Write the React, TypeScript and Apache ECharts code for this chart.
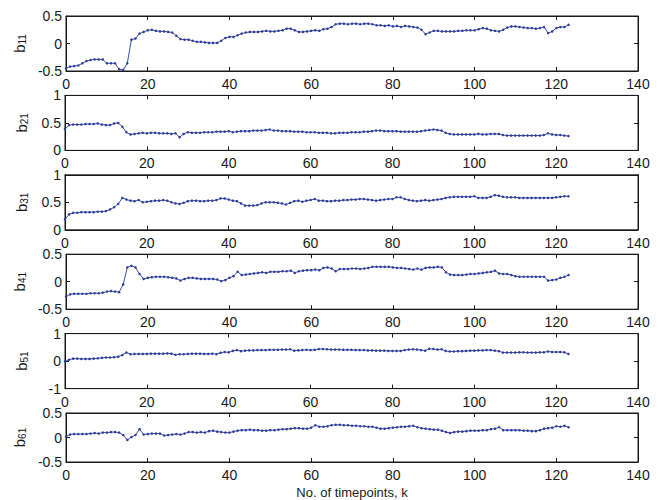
import React, { useEffect, useRef } from "react";
import * as echarts from "echarts";

const xTicks = [0, 20, 40, 60, 80, 100, 120, 140];
const subs = ["11", "21", "31", "41", "51", "61"];
const yMin = [-0.5, 0, 0, -0.5, -1, -0.5];
const yMax = [0.5, 1, 1, 0.5, 1, 0.5];
const yStep = [0.5, 0.5, 0.5, 0.5, 1, 0.5];

const b11 = [-0.45, -0.42, -0.41, -0.4, -0.36, -0.32, -0.3, -0.29, -0.29, -0.29, -0.36, -0.36, -0.36, -0.47, -0.48, -0.36, 0.07, 0.09, 0.18, 0.21, 0.24, 0.25, 0.23, 0.22, 0.22, 0.21, 0.2, 0.14, 0.08, 0.07, 0.07, 0.05, 0.03, 0.03, 0.02, 0.01, 0.01, 0.01, 0.05, 0.1, 0.12, 0.12, 0.15, 0.18, 0.2, 0.21, 0.21, 0.21, 0.22, 0.23, 0.22, 0.22, 0.23, 0.24, 0.27, 0.27, 0.24, 0.21, 0.21, 0.22, 0.23, 0.24, 0.23, 0.26, 0.27, 0.3, 0.35, 0.36, 0.36, 0.35, 0.36, 0.36, 0.35, 0.36, 0.36, 0.35, 0.33, 0.33, 0.32, 0.33, 0.31, 0.32, 0.3, 0.32, 0.31, 0.3, 0.29, 0.25, 0.17, 0.2, 0.23, 0.23, 0.22, 0.22, 0.22, 0.22, 0.23, 0.23, 0.24, 0.24, 0.24, 0.26, 0.28, 0.27, 0.24, 0.23, 0.22, 0.25, 0.29, 0.31, 0.31, 0.3, 0.29, 0.28, 0.28, 0.27, 0.28, 0.3, 0.19, 0.22, 0.28, 0.3, 0.3, 0.34];
const b21 = [0.39, 0.46, 0.47, 0.47, 0.47, 0.48, 0.48, 0.48, 0.49, 0.47, 0.46, 0.46, 0.49, 0.5, 0.43, 0.33, 0.29, 0.3, 0.31, 0.32, 0.31, 0.32, 0.32, 0.31, 0.31, 0.31, 0.3, 0.31, 0.24, 0.3, 0.33, 0.32, 0.32, 0.32, 0.33, 0.33, 0.33, 0.34, 0.34, 0.34, 0.35, 0.33, 0.34, 0.35, 0.35, 0.35, 0.36, 0.36, 0.36, 0.37, 0.38, 0.36, 0.36, 0.35, 0.35, 0.35, 0.34, 0.34, 0.34, 0.33, 0.33, 0.33, 0.32, 0.32, 0.32, 0.31, 0.31, 0.32, 0.32, 0.32, 0.33, 0.33, 0.33, 0.34, 0.34, 0.35, 0.36, 0.36, 0.35, 0.35, 0.35, 0.35, 0.34, 0.34, 0.34, 0.34, 0.34, 0.35, 0.36, 0.37, 0.38, 0.37, 0.36, 0.32, 0.3, 0.29, 0.29, 0.29, 0.29, 0.29, 0.29, 0.3, 0.29, 0.29, 0.3, 0.3, 0.3, 0.28, 0.27, 0.27, 0.27, 0.27, 0.27, 0.27, 0.27, 0.27, 0.27, 0.28, 0.31, 0.29, 0.28, 0.28, 0.27, 0.26];
const b31 = [0.19, 0.28, 0.31, 0.31, 0.32, 0.32, 0.32, 0.32, 0.33, 0.33, 0.34, 0.37, 0.41, 0.47, 0.58, 0.55, 0.53, 0.52, 0.54, 0.5, 0.51, 0.52, 0.53, 0.53, 0.54, 0.53, 0.5, 0.48, 0.47, 0.49, 0.52, 0.53, 0.53, 0.52, 0.52, 0.53, 0.53, 0.54, 0.57, 0.57, 0.55, 0.53, 0.52, 0.48, 0.44, 0.44, 0.44, 0.45, 0.48, 0.5, 0.5, 0.5, 0.49, 0.48, 0.46, 0.49, 0.52, 0.53, 0.51, 0.53, 0.54, 0.56, 0.53, 0.53, 0.52, 0.52, 0.53, 0.53, 0.54, 0.54, 0.55, 0.55, 0.56, 0.56, 0.55, 0.54, 0.53, 0.54, 0.55, 0.56, 0.56, 0.59, 0.59, 0.56, 0.54, 0.53, 0.52, 0.53, 0.54, 0.53, 0.54, 0.55, 0.56, 0.58, 0.59, 0.6, 0.6, 0.6, 0.6, 0.6, 0.61, 0.58, 0.58, 0.58, 0.6, 0.63, 0.62, 0.6, 0.59, 0.59, 0.59, 0.58, 0.58, 0.58, 0.58, 0.58, 0.58, 0.58, 0.58, 0.58, 0.59, 0.6, 0.61, 0.61];
const b41 = [-0.27, -0.23, -0.22, -0.22, -0.22, -0.22, -0.21, -0.21, -0.21, -0.2, -0.18, -0.17, -0.18, -0.19, -0.05, 0.26, 0.29, 0.26, 0.14, 0.05, 0.07, 0.08, 0.09, 0.09, 0.09, 0.08, 0.07, 0.06, 0.02, 0.05, 0.07, 0.07, 0.06, 0.05, 0.05, 0.05, 0.05, 0.04, 0.01, 0.03, 0.07, 0.1, 0.18, 0.12, 0.13, 0.14, 0.15, 0.16, 0.17, 0.16, 0.18, 0.18, 0.18, 0.19, 0.19, 0.2, 0.16, 0.19, 0.2, 0.21, 0.21, 0.22, 0.21, 0.25, 0.26, 0.24, 0.19, 0.23, 0.23, 0.23, 0.24, 0.24, 0.23, 0.24, 0.25, 0.27, 0.27, 0.27, 0.27, 0.27, 0.26, 0.25, 0.25, 0.24, 0.23, 0.22, 0.24, 0.22, 0.25, 0.26, 0.26, 0.27, 0.26, 0.17, 0.13, 0.12, 0.12, 0.12, 0.13, 0.14, 0.14, 0.15, 0.16, 0.17, 0.18, 0.2, 0.15, 0.14, 0.14, 0.12, 0.1, 0.09, 0.09, 0.09, 0.09, 0.09, 0.09, 0.09, 0.02, 0.03, 0.04, 0.07, 0.09, 0.12];
const b51 = [-0.01, 0.05, 0.09, 0.09, 0.08, 0.08, 0.08, 0.09, 0.1, 0.12, 0.13, 0.13, 0.14, 0.16, 0.22, 0.31, 0.25, 0.26, 0.26, 0.26, 0.26, 0.27, 0.27, 0.27, 0.27, 0.28, 0.27, 0.23, 0.25, 0.25, 0.26, 0.27, 0.27, 0.27, 0.26, 0.26, 0.27, 0.25, 0.3, 0.33, 0.32, 0.37, 0.4, 0.36, 0.38, 0.39, 0.39, 0.4, 0.4, 0.4, 0.41, 0.41, 0.41, 0.42, 0.42, 0.43, 0.38, 0.39, 0.4, 0.41, 0.4, 0.41, 0.44, 0.44, 0.43, 0.42, 0.42, 0.42, 0.41, 0.41, 0.41, 0.4, 0.4, 0.4, 0.39, 0.39, 0.38, 0.38, 0.38, 0.37, 0.37, 0.37, 0.37, 0.4, 0.42, 0.43, 0.42, 0.4, 0.38, 0.45, 0.44, 0.42, 0.43, 0.37, 0.35, 0.35, 0.36, 0.36, 0.37, 0.38, 0.38, 0.39, 0.39, 0.4, 0.4, 0.38, 0.36, 0.31, 0.31, 0.31, 0.31, 0.32, 0.32, 0.31, 0.31, 0.31, 0.32, 0.32, 0.35, 0.33, 0.33, 0.33, 0.32, 0.26];
const b61 = [0.02, 0.06, 0.07, 0.07, 0.07, 0.07, 0.08, 0.09, 0.08, 0.1, 0.1, 0.11, 0.11, 0.1, 0.05, -0.05, 0.01, 0.05, 0.17, 0.06, 0.07, 0.08, 0.08, 0.08, 0.04, 0.05, 0.06, 0.07, 0.06, 0.08, 0.11, 0.11, 0.1, 0.11, 0.1, 0.13, 0.14, 0.12, 0.11, 0.1, 0.1, 0.12, 0.14, 0.15, 0.15, 0.16, 0.15, 0.15, 0.14, 0.14, 0.15, 0.15, 0.16, 0.17, 0.17, 0.18, 0.19, 0.19, 0.18, 0.18, 0.2, 0.25, 0.22, 0.22, 0.23, 0.25, 0.26, 0.26, 0.25, 0.25, 0.24, 0.24, 0.23, 0.23, 0.22, 0.22, 0.2, 0.18, 0.18, 0.19, 0.2, 0.21, 0.22, 0.22, 0.23, 0.24, 0.21, 0.19, 0.18, 0.17, 0.16, 0.16, 0.14, 0.11, 0.09, 0.11, 0.12, 0.12, 0.13, 0.14, 0.14, 0.14, 0.15, 0.15, 0.17, 0.18, 0.21, 0.15, 0.15, 0.15, 0.15, 0.15, 0.14, 0.14, 0.13, 0.13, 0.15, 0.18, 0.19, 0.2, 0.23, 0.22, 0.24, 0.21];

const seriesData = [b11, b21, b31, b41, b51, b61];
const xLabel = "No. of timepoints, k";

const FONT = "Liberation Sans, Arial, Helvetica, sans-serif";
const INK = "#1a1a1a";
const BLUE = "#3a4cab";

export default function App() {
  const ref = useRef<HTMLDivElement>(null);
  useEffect(() => {
    if (!ref.current) return;
    const chart = echarts.init(ref.current, null, { renderer: "svg" });
    const n = seriesData.length;
    const top0 = 16;
    const step = 79.4;
    const h = 55;
    const grids: any[] = [];
    const xAxes: any[] = [];
    const yAxes: any[] = [];
    const series: any[] = [];
    const tickStyle = { color: INK, width: 1 };
    for (let i = 0; i < n; i++) {
      grids.push({
        left: 65,
        right: 25,
        top: top0 + i * step,
        height: h,
        show: true,
        borderColor: INK,
        borderWidth: 1,
        backgroundColor: "#fff",
      });
      const xBase = {
        gridIndex: i,
        type: "value",
        min: xTicks[0],
        max: xTicks[xTicks.length - 1],
        interval: xTicks[1] - xTicks[0],
        splitLine: { show: false },
        axisLine: { show: true, onZero: false, lineStyle: tickStyle },
        axisTick: { show: true, inside: true, length: 4, lineStyle: tickStyle },
      };
      xAxes.push({
        ...xBase,
        position: "bottom",
        axisLabel: { show: true, margin: 6, color: INK, fontSize: 14, fontFamily: FONT },
        ...(i === n - 1
          ? {
              name: xLabel,
              nameLocation: "middle",
              nameGap: 24,
              nameTextStyle: { color: INK, fontSize: 13, fontFamily: FONT },
            }
          : {}),
      });
      xAxes.push({ ...xBase, position: "top", axisLabel: { show: false } });
      const yBase = {
        gridIndex: i,
        type: "value",
        min: yMin[i],
        max: yMax[i],
        interval: yStep[i],
        splitLine: { show: false },
        axisLine: { show: true, onZero: false, lineStyle: tickStyle },
        axisTick: { show: true, inside: true, length: 4, lineStyle: tickStyle },
      };
      yAxes.push({
        ...yBase,
        position: "left",
        axisLabel: { show: true, margin: 4, color: INK, fontSize: 14, fontFamily: FONT },
        name: `{a|b}{s|${subs[i]}}`,
        nameLocation: "middle",
        nameRotate: 90,
        nameGap: 36,
        nameTextStyle: {
          rich: {
            a: { fontSize: 15, fontFamily: FONT, color: INK, lineHeight: 15, verticalAlign: "top" },
            s: { fontSize: 10, fontFamily: FONT, color: INK, lineHeight: 10, verticalAlign: "bottom", padding: [9, 0, 0, 0] },
          },
        },
      });
      yAxes.push({ ...yBase, position: "right", axisLabel: { show: false } });
      series.push({
        type: "line",
        name: "b" + subs[i],
        xAxisIndex: 2 * i,
        yAxisIndex: 2 * i,
        data: seriesData[i].map((v, k) => [k, v]),
        symbol: "circle",
        symbolSize: 2.5,
        showSymbol: true,
        lineStyle: { width: 1, color: BLUE },
        itemStyle: { color: "#2e3c96" },
      });
    }
    chart.setOption({
      animation: false,
      backgroundColor: "#fff",
      grid: grids,
      xAxis: xAxes,
      yAxis: yAxes,
      series,
    });
    return () => chart.dispose();
  }, []);
  return <div ref={ref} style={{ position: "absolute", left: 0, top: 0, width: 663, height: 500 }} />;
}
